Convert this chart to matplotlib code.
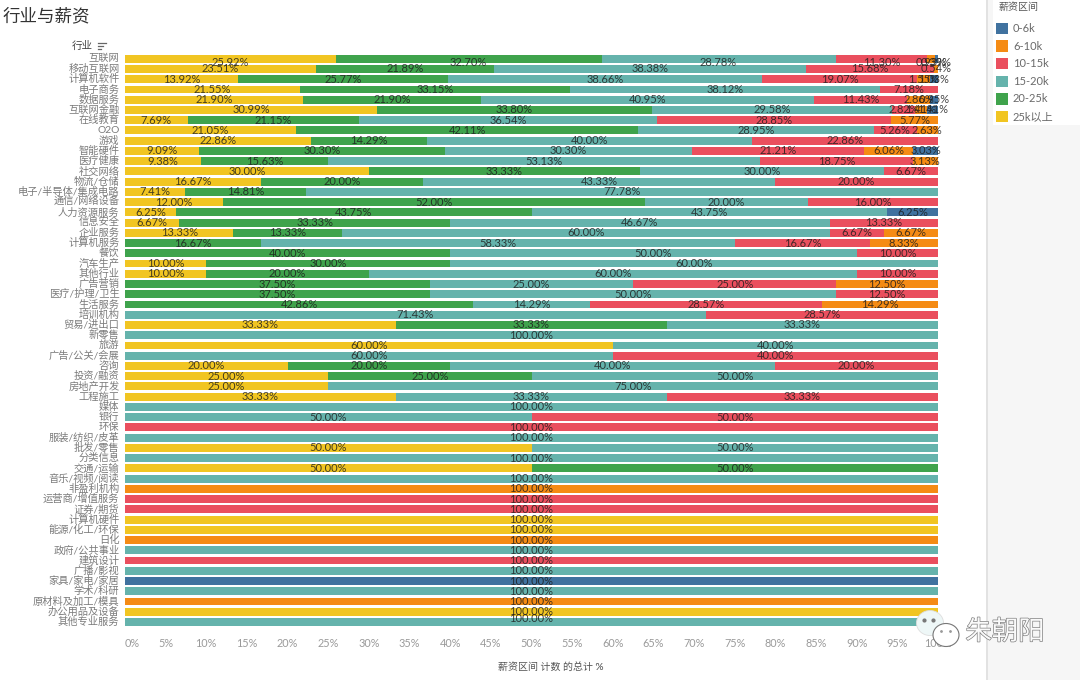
import numpy as np
import matplotlib
matplotlib.use("Agg")
import matplotlib.pyplot as plt
from matplotlib.patches import Ellipse, Rectangle
import matplotlib.patheffects as pe

plt.rcParams['font.family'] = ['Lato', 'Noto Sans CJK SC', 'DejaVu Sans']

industries = ["互联网","移动互联网","计算机软件","电子商务","数据服务","互联网金融","在线教育","O2O","游戏","智能硬件",
    "医疗健康","社交网络","物流/仓储","电子/半导体/集成电路","通信/网络设备","人力资源服务","信息安全","企业服务","计算机服务","餐饮",
    "汽车生产","其他行业","广告营销","医疗/护理/卫生","生活服务","培训机构","贸易/进出口","新零售","旅游","广告/公关/会展",
    "咨询","投资/融资","房地产开发","工程施工","媒体","银行","环保","服装/纺织/皮革","批发/零售","分类信息",
    "交通/运输","音乐/视频/阅读","非盈利机构","运营商/增值服务","证券/期货","计算机硬件","能源/化工/环保","日化","政府/公共事业","建筑设计",
    "广播/影视","家具/家电/家居","学术/科研","原材料及加工/模具","办公用品及设备","其他专业服务"]

s_25up = [25.92,23.51,13.92,21.55,21.90,30.99,7.69,21.05,22.86,9.09,9.38,30.00,16.67,7.41,12.00,6.25,6.67,13.33,
    0,0,10,10,0,0,0,0,33.33,0,60,0,20,25,25,33.33,
    0,0,0,0,50,0,50,0,0,0,0,100,100,0,0,0,0,0,0,0,100,0]
s_20_25 = [32.70,21.89,25.77,33.15,21.90,33.80,21.15,42.11,14.29,30.30,15.63,33.33,20.00,14.81,52.00,43.75,33.33,13.33,
    16.67,40,30,20,37.5,37.5,42.86,0,33.33,0,0,0,20,25,0,0,
    0,0,0,0,0,0,50,0,0,0,0,0,0,0,0,0,0,0,0,0,0,0]
s_15_20 = [28.78,38.38,38.66,38.12,40.95,29.58,36.54,28.95,40.00,30.30,53.13,30.00,43.33,77.78,20.00,43.75,46.67,60.00,
    58.33,50,60,60,25,50,14.29,71.43,33.33,100,40,60,40,50,75,33.33,
    100,50,0,100,50,100,0,100,0,0,0,0,0,0,100,0,100,0,100,0,0,100]
s_10_15 = [11.30,15.68,19.07,7.18,11.43,2.82,28.85,5.26,22.86,21.21,18.75,6.67,20,0,16,0,13.33,6.67,
    16.67,10,0,10,25,12.5,28.57,28.57,0,0,0,40,20,0,0,33.33,
    0,50,100,0,0,0,0,0,0,100,100,0,0,0,0,100,0,0,0,0,0,0]
s_6_10 = [0.93,0.54,1.55,0,2.86,1.41,5.77,2.63,0,6.06,3.13,0,0,0,0,0,0,6.67,
    8.33,0,0,0,12.5,0,14.29,0,0,0,0,0,0,0,0,0,
    0,0,0,0,0,0,0,0,100,0,0,0,0,100,0,0,0,0,0,100,0,0]
s_0_6 = [0.39,0,1.03,0,0.95,1.41,0,0,0,3.03,0,0,0,0,0,6.25,0,0,
    0,0,0,0,0,0,0,0,0,0,0,0,0,0,0,0,
    0,0,0,0,0,0,0,0,0,0,0,0,0,0,0,0,0,100,0,0,0,0]

bands = ["25k以上","20-25k","15-20k","10-15k","6-10k","0-6k"]
band_values = [s_25up, s_20_25, s_15_20, s_10_15, s_6_10, s_0_6]
band_colors = ["#f1c522","#3fa34c","#65b3ac","#ea4f5e","#f58b14","#40729f"]
xticks = list(range(0, 101, 5))

W, H = 1080, 680
fig = plt.figure(figsize=(W/100, H/100), dpi=100, facecolor="white")

# background layer in pixel coordinates
bg = fig.add_axes([0, 0, 1, 1], zorder=0)
bg.set_xlim(0, W); bg.set_ylim(H, 0); bg.axis("off")
bg.add_patch(Rectangle((986, 0), 94, 680, facecolor="#f6f6f6", edgecolor="none"))
bg.plot([986.5, 986.5], [0, 680], color="#dedede", lw=1.2)
bg.add_patch(Rectangle((993, 0), 87, 125, facecolor="white", edgecolor="none"))

# main chart
top, bottom, left, right = 53.6, 627.1, 125, 938
ax = fig.add_axes([left/W, 1-bottom/H, (right-left)/W, (bottom-top)/H], zorder=1)
ax.patch.set_alpha(0)
y = np.arange(len(industries))
cum = np.zeros(len(industries))
for vals, col in zip(band_values, band_colors):
    v = np.array(vals, dtype=float)
    ax.barh(y, v, left=cum, color=col, height=0.77, linewidth=0)
    for yi, (c, w) in enumerate(zip(cum, v)):
        if w > 0:
            shift = 0.35 if yi == 0 else (-0.35 if yi == len(industries)-1 else 0)
            ax.text(c + w/2, yi + shift, f"{w:.2f}%", ha="center", va="center",
                    fontsize=8, color="#1d1d1d", alpha=0.82, clip_on=False, zorder=3)
    cum += v
ax.set_xlim(0, 100)
ax.set_ylim(len(industries)-0.5, -0.5)
for s in ax.spines.values():
    s.set_visible(False)
ax.set_yticks(y, industries)
ax.tick_params(axis="y", length=0, pad=4, labelsize=7.4, labelcolor="#7b7b7b")
for lab in ax.get_yticklabels():
    lab.set_va("center")
ax.set_xticks(xticks, [f"{t}%" for t in xticks])
ax.tick_params(axis="x", length=0, pad=8, labelsize=7.8, labelcolor="#9a9a9a")
ax.get_xticklabels()[0].set_ha("left")
ax.set_xlabel("薪资区间 计数 的总计 %", fontsize=7.2, color="#555555", weight="medium",
              x=(551-left)/(right-left), labelpad=9)

# overlay in pixel coordinates
ov = fig.add_axes([0, 0, 1, 1], zorder=2)
ov.set_xlim(0, W); ov.set_ylim(H, 0); ov.axis("off"); ov.patch.set_alpha(0)
ov.text(3, 16, "行业与薪资", fontsize=12.6, color="#333333", va="center", ha="left")
ov.text(93, 45.5, "行业", fontsize=7.6, color="#444444", va="center", ha="right")
for yy, x1 in zip([42.5, 45.5, 48.5], [106, 103, 101]):
    ov.plot([98, x1], [yy, yy], color="#666666", lw=0.9)

ov.text(999, 7, "薪资区间", fontsize=7.2, color="#555555", va="center", ha="left")
legend_labels = bands[::-1]
legend_colors = band_colors[::-1]
for i, (lab, col) in enumerate(zip(legend_labels, legend_colors)):
    yc = 28.5 + i*17.6
    ov.add_patch(Rectangle((996, yc-5.8), 12, 11.6, facecolor=col, edgecolor="none"))
    ov.text(1013, yc, lab, fontsize=8, color="#6a6a6a", va="center", ha="left")

# watermark
ov.add_patch(Ellipse((930, 623), 27, 25, facecolor="#eef7f7", edgecolor="#dddddd", lw=0.6, zorder=5))
ov.add_patch(Ellipse((946, 635), 26, 23, facecolor="white", edgecolor="#777777", lw=0.8, zorder=6))
ov.plot([924, 933], [620, 620], ls="none", marker="o", ms=2, color="#777777", zorder=7)
ov.plot([941, 950], [631, 631], ls="none", marker="o", ms=1, color="#999999", zorder=7)
ov.text(1005, 632, "朱朝阳", fontsize=19, color="#fafafa", va="center", ha="center", zorder=7,
        path_effects=[pe.withStroke(linewidth=1.0, foreground="#808080")])

fig.savefig("out.png", dpi=100, facecolor="white")
